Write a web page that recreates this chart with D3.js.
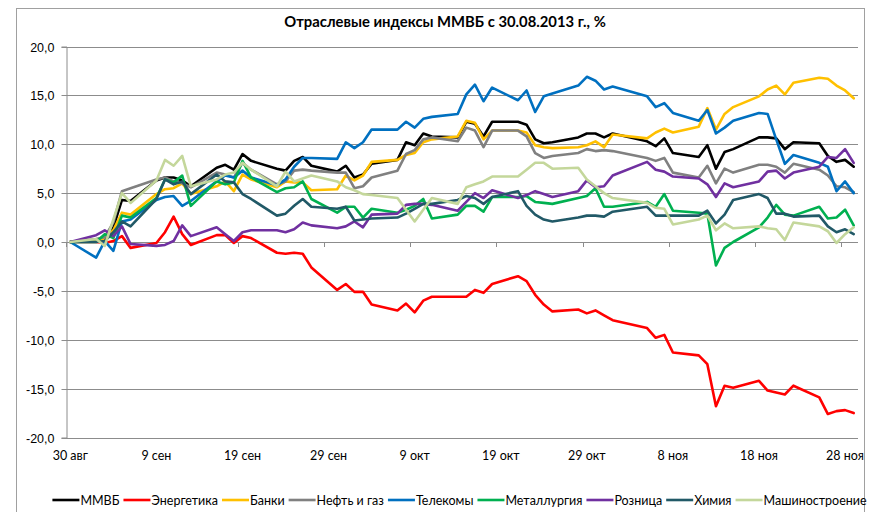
<!DOCTYPE html>
<html lang="ru">
<head>
<meta charset="UTF-8">
<title>Отраслевые индексы ММВБ</title>
<style>
  body { margin: 0; background: #fff; }
  svg { display: block; font-family: Lato, "Open Sans", sans-serif; }
</style>
</head>
<body>
<svg width="872" height="512"></svg>
<script src="https://d3js.org/d3.v7.min.js"></script>
<script>
// торговые дни
const dates = [
  "2013-08-30",
  "2013-09-02","2013-09-03","2013-09-04","2013-09-05","2013-09-06",
  "2013-09-09","2013-09-10","2013-09-11","2013-09-12","2013-09-13",
  "2013-09-16","2013-09-17","2013-09-18","2013-09-19","2013-09-20",
  "2013-09-23","2013-09-24","2013-09-25","2013-09-26","2013-09-27",
  "2013-09-30","2013-10-01","2013-10-02","2013-10-03","2013-10-04",
  "2013-10-07","2013-10-08","2013-10-09","2013-10-10","2013-10-11",
  "2013-10-14","2013-10-15","2013-10-16","2013-10-17","2013-10-18",
  "2013-10-21","2013-10-22","2013-10-23","2013-10-24","2013-10-25",
  "2013-10-28","2013-10-29","2013-10-30","2013-10-31","2013-11-01",
  "2013-11-05","2013-11-06","2013-11-07","2013-11-08",
  "2013-11-11","2013-11-12","2013-11-13","2013-11-14","2013-11-15",
  "2013-11-18","2013-11-19","2013-11-20","2013-11-21","2013-11-22",
  "2013-11-25","2013-11-26","2013-11-27","2013-11-28","2013-11-29"
];

const mmvb = [0, 0.1, 0.3, 1.5, 4.3, 4.2, 6.3, 6.6, 6.6, 6.3, 5.7, 7.6, 7.9, 7.4, 9.0, 8.3, 7.5, 7.3, 8.3, 8.7, 7.8,
  7.2, 7.8, 6.6, 6.9, 8.0, 8.4, 10.2, 9.9, 11.1, 10.8, 10.7, 12.3, 12.1, 10.8, 12.3, 12.3, 12.0, 10.5, 10.1, 10.2,
  10.7, 11.1, 11.1, 10.7, 11.1, 10.3, 9.8, 10.6, 9.1, 8.7, 9.9, 7.5, 9.2, 9.5, 10.7, 10.7, 10.6, 9.5, 10.2,
  10.1, 8.8, 8.2, 8.4, 7.7];
const energy = [0, 0, -0.1, 0.1, 0.6, -0.6, -0.1, 1.0, 2.6, 0.8, -0.3, 0.7, 0.7, -0.1, 0.6, 0.4, -1.1, -1.2, -1.1, -1.2, -2.6,
  -4.9, -4.3, -5.1, -5.1, -6.4, -7.0, -6.3, -7.2, -6.0, -5.6, -5.6, -5.6, -4.9, -5.2, -4.3, -3.5, -4.0, -5.4, -6.4, -7.1,
  -6.9, -7.3, -7.0, -7.5, -8.0, -8.8, -9.8, -9.5, -11.3, -11.6, -12.5, -16.8, -14.7, -14.9, -14.2, -15.2, -15.4, -15.6, -14.7,
  -15.9, -17.6, -17.3, -17.2, -17.5];
const banks = [0, 0.1, 0.3, 1.2, 3.0, 2.8, 4.9, 5.4, 5.5, 6.0, 4.9, 5.7, 6.2, 5.2, 6.9, 6.4, 5.6, 6.2, 6.1, 6.1, 5.3,
  5.4, 6.8, 6.3, 6.8, 8.2, 8.4, 8.9, 9.1, 10.2, 10.5, 10.8, 12.4, 12.2, 10.5, 11.4, 11.4, 11.2, 9.9, 9.7, 9.6,
  9.7, 9.9, 10.3, 9.7, 11.0, 10.6, 11.2, 11.6, 11.2, 11.8, 13.7, 11.5, 13.1, 13.8, 14.9, 15.6, 16.0, 15.1, 16.3,
  16.8, 16.7, 16.0, 15.5, 14.7];
const oilGas = [0, 0.3, 0.5, 2.0, 5.2, 5.5, 6.4, 6.6, 6.2, 6.0, 5.6, 7.1, 6.9, 6.6, 8.1, 7.4, 5.9, 6.2, 7.3, 7.4, 7.3,
  7.1, 7.1, 5.5, 5.7, 6.6, 7.3, 9.0, 9.4, 10.5, 10.7, 10.3, 11.7, 11.4, 9.7, 11.4, 11.4, 10.8, 9.1, 8.6, 8.8,
  9.1, 9.5, 9.3, 9.4, 9.3, 8.6, 8.3, 8.6, 7.1, 6.6, 7.8, 6.0, 7.5, 7.1, 7.9, 7.9, 7.7, 7.1, 8.0,
  7.4, 6.8, 5.7, 5.6, 5.1];
const telecom = [0, -1.6, 0.1, -0.9, 2.1, 2.3, 4.3, 4.6, 4.7, 3.7, 4.2, 6.2, 6.8, 6.6, 7.3, 6.6, 5.8, 6.4, 7.7, 8.6, 8.6,
  8.5, 10.2, 9.6, 10.2, 11.5, 11.5, 12.3, 11.7, 12.6, 12.8, 13.1, 15.1, 16.1, 14.4, 15.8, 14.5, 15.5, 13.3, 14.9, 15.2,
  16.0, 16.9, 16.5, 15.6, 15.9, 14.9, 13.8, 14.2, 13.2, 12.4, 13.5, 11.1, 11.7, 12.4, 13.2, 13.1, 10.5, 8.0, 8.9,
  8.1, 7.7, 5.2, 6.2, 5.0];
const metals = [0, 0, 0.8, 0.4, 2.7, 2.5, 4.5, 6.4, 6.1, 6.8, 3.7, 6.2, 5.9, 6.1, 8.3, 6.6, 5.1, 5.5, 5.6, 6.2, 4.4,
  3.0, 3.6, 3.6, 2.5, 3.4, 3.0, 3.3, 3.7, 4.4, 2.4, 2.8, 3.7, 3.7, 3.1, 4.6, 4.6, 4.7, 4.1, 4.0, 3.9,
  4.5, 4.7, 5.5, 3.6, 3.6, 4.1, 3.6, 4.9, 3.2, 3.0, 2.9, -2.4, -0.6, 0.0, 1.5, 2.5, 3.8, 2.8, 2.7,
  3.6, 2.4, 2.5, 3.3, 1.7];
const retail = [0, 0.7, 1.2, 0.6, 1.6, -0.2, -0.4, -0.3, 0.1, 1.7, 0.6, 1.5, 0.8, 0.1, 1.0, 1.2, 1.2, 1.0, 1.3, 2.0, 1.7,
  1.4, 1.6, 2.1, 1.5, 2.8, 2.9, 3.8, 3.9, 3.9, 3.8, 3.2, 4.1, 5.0, 4.5, 5.3, 4.5, 4.8, 5.2, 4.9, 4.6,
  5.2, 6.3, 5.6, 5.7, 6.8, 8.2, 7.4, 7.2, 6.7, 6.5, 5.9, 4.6, 6.0, 5.6, 6.2, 7.2, 7.3, 6.5, 7.1,
  7.7, 8.7, 8.6, 9.5, 8.1];
const chemistry = [0, 0, 0.1, 1.0, 2.1, 1.6, 4.4, 6.4, 5.9, 6.2, 4.9, 6.9, 6.2, 6.1, 4.9, 4.4, 2.7, 2.9, 3.7, 4.4, 3.6,
  3.4, 3.6, 2.2, 2.3, 2.4, 2.5, 2.9, 3.4, 3.9, 3.9, 4.3, 4.7, 4.5, 3.9, 4.6, 5.2, 3.7, 2.8, 2.3, 2.1,
  2.5, 2.7, 2.7, 2.6, 3.1, 3.6, 2.7, 2.7, 2.7, 2.7, 3.2, 1.9, 2.8, 4.3, 4.9, 4.5, 2.9, 2.9, 2.6,
  2.7, 1.6, 1.0, 1.3, 0.8];
const machinery = [0, 0.3, -0.4, 2.3, 5.0, 4.0, 6.3, 8.4, 7.8, 8.8, 5.7, 6.4, 6.9, 7.1, 8.1, 7.4, 5.7, 7.2, 6.2, 6.5, 6.8,
  6.2, 5.6, 5.3, 4.9, 4.8, 4.5, 3.3, 2.1, 3.3, 4.5, 3.9, 5.6, 5.9, 6.2, 6.7, 6.7, 7.4, 8.1, 8.1, 7.5,
  7.6, 6.4, 5.7, 5.0, 4.5, 4.0, 3.5, 3.4, 1.8, 2.3, 2.7, 1.2, 1.9, 1.4, 1.6, 1.4, 1.3, 0.2, 2.0,
  1.6, 1.1, -0.1, 0.8, 1.5];

const seriesNames = ["ММВБ", "Энергетика", "Банки", "Нефть и газ", "Телекомы", "Металлургия", "Розница", "Химия", "Машиностроение"];
const seriesValues = [mmvb, energy, banks, oilGas, telecom, metals, retail, chemistry, machinery];
const colors = ["#000000", "#ff0000", "#ffc000", "#808080", "#0070c0", "#00b050", "#7030a0", "#215967", "#c4d79b"];

const yTicks = [20, 15, 10, 5, 0, -5, -10, -15, -20];
const xTickDates = ["2013-08-30", "2013-09-09", "2013-09-19", "2013-09-29", "2013-10-09",
  "2013-10-19", "2013-10-29", "2013-11-08", "2013-11-18", "2013-11-28"];
const monthNames = ["янв", "фев", "мар", "апр", "май", "июн", "июл", "авг", "сен", "окт", "ноя", "дек"];

const parse = d3.timeParse("%Y-%m-%d");
const days = dates.map(parse);
const svg = d3.select("svg");
const gridColor = "#8c8c8c";

// рамка области диаграммы
svg.append("rect")
  .attr("x", 16.5).attr("y", 8.5)
  .attr("width", 848).attr("height", 520)
  .attr("fill", "#fff").attr("stroke", "#a0a0a0");

const plotLeft = 66, plotRight = 858, plotTop = 46.5, plotBottom = 437.5;
const x = d3.scaleTime()
  .domain([d3.timeHour.offset(parse("2013-08-29"), 12), d3.timeHour.offset(parse("2013-11-29"), 12)])
  .range([plotLeft, plotRight]);
const y = d3.scaleLinear().domain([-20, 20]).range([plotBottom, plotTop]);

// сетка
svg.append("g").selectAll("line").data(yTicks).join("line")
  .attr("x1", plotLeft).attr("x2", plotRight)
  .attr("y1", d => Math.round(y(d)) + 0.5).attr("y2", d => Math.round(y(d)) + 0.5)
  .attr("stroke", gridColor).attr("stroke-width", 1);

// ось Y
const yAxis = svg.append("g")
  .attr("transform", `translate(${plotLeft + 0.5},0)`)
  .call(d3.axisLeft(y).tickValues(yTicks).tickSize(5).tickPadding(7)
    .tickFormat(d => d3.format(".1f")(d).replace(".", ",").replace("−", "-")));
yAxis.select(".domain").attr("stroke", gridColor);
yAxis.selectAll(".tick line").attr("stroke", gridColor);
yAxis.selectAll(".tick text").attr("font-size", 12.5).attr("fill", "#000");
yAxis.selectAll(".tick").attr("transform", d => `translate(0,${Math.round(y(d)) + 0.5})`);

// ось X (по нулю), подписи внизу
const dayWidth = x(parse("2013-08-31")) - x(parse("2013-08-30"));
const xg = svg.append("g");
xg.selectAll("line").data(xTickDates.map(parse)).join("line")
  .attr("x1", d => Math.round(x(d) - dayWidth / 2) + 0.5)
  .attr("x2", d => Math.round(x(d) - dayWidth / 2) + 0.5)
  .attr("y1", Math.round(y(0))).attr("y2", Math.round(y(0)) + 5)
  .attr("stroke", gridColor);
xg.selectAll("text").data(xTickDates.map(parse)).join("text")
  .attr("x", d => x(d)).attr("y", 460)
  .attr("text-anchor", "middle").attr("font-size", 12.5)
  .text(d => d.getDate() + " " + monthNames[d.getMonth()]);

// линии
const line = d3.line().x((d, i) => x(days[i])).y(d => y(d));
svg.append("g").selectAll("path").data(seriesValues).join("path")
  .attr("d", line)
  .attr("fill", "none")
  .attr("stroke", (d, i) => colors[i])
  .attr("stroke-width", 2.6)
  .attr("stroke-linejoin", "round")
  .attr("stroke-linecap", "round");

// заголовок
svg.append("text")
  .attr("x", 445).attr("y", 27)
  .attr("text-anchor", "middle")
  .attr("font-weight", "bold").attr("font-size", 14.8)
  .text("Отраслевые индексы ММВБ с 30.08.2013 г., %");

// легенда
const legend = svg.append("g").attr("font-size", 12.5);
const items = legend.selectAll("g").data(seriesNames).join("g");
items.append("line").attr("x1", 0).attr("x2", 27).attr("y1", 0).attr("y2", 0)
  .attr("stroke", (d, i) => colors[i]).attr("stroke-width", 2.6);
items.append("text").attr("x", 28).attr("y", 4.5).text(d => d);
let pos = 0;
const offsets = [];
items.each(function () {
  offsets.push(pos);
  pos += 28 + this.querySelector("text").getComputedTextLength() + 4;
});
const startX = (57 + 862) / 2 - (pos - 4) / 2;
items.attr("transform", (d, i) => `translate(${startX + offsets[i]},500)`);
</script>
</body>
</html>
